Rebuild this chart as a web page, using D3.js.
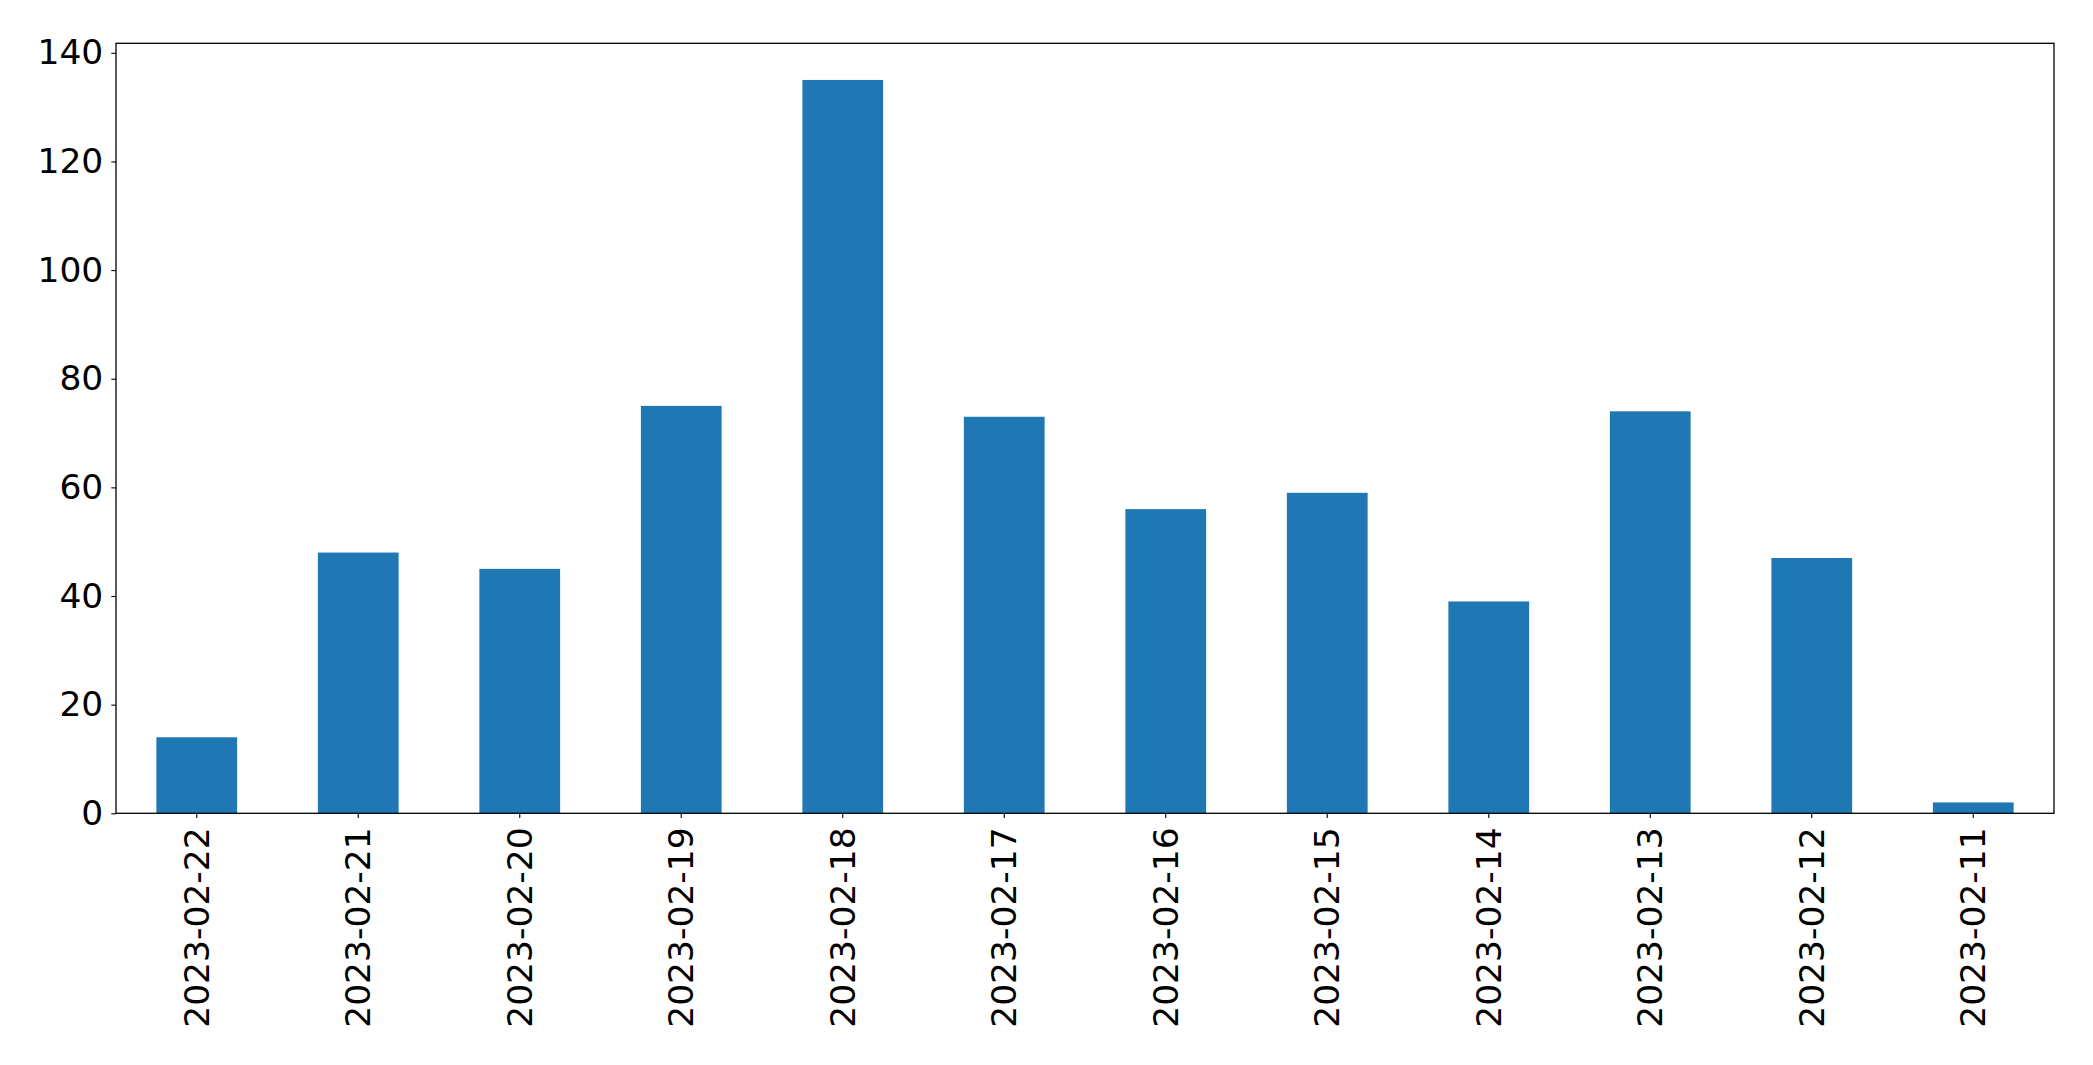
<!DOCTYPE html>
<html>
<head>
<meta charset="utf-8">
<script src="https://cdn.jsdelivr.net/npm/d3@7"></script>
<style>
  html, body { margin: 0; padding: 0; background: #fff; }
  svg { display: block; }
  .tick text { font-family: "DejaVu Sans", sans-serif; font-size: 34.5px; fill: #000; }
</style>
</head>
<body>
<svg id="chart" width="2093" height="1065"></svg>
<script>
const categories = ["2023-02-22","2023-02-21","2023-02-20","2023-02-19","2023-02-18","2023-02-17","2023-02-16","2023-02-15","2023-02-14","2023-02-13","2023-02-12","2023-02-11"];
const values = [14, 48, 45, 75, 135, 73, 56, 59, 39, 74, 47, 2];
const yTicks = [0, 20, 40, 60, 80, 100, 120, 140];

const W = 2093, H = 1065;
const margin = { left: 116, right: W - 2054, top: 43.3, bottom: H - 813.3 };
const iw = W - margin.left - margin.right;
const ih = H - margin.top - margin.bottom;

const svg = d3.select("#chart");
const g = svg.append("g").attr("transform", `translate(${margin.left},${margin.top})`);

const yMax = d3.max(values) * 1.05;
const y = d3.scaleLinear().domain([0, yMax]).range([ih, 0]);
const x = d3.scaleBand().domain(categories).range([0, iw]).paddingInner(0.5).paddingOuter(0.25);

g.selectAll("rect.bar")
  .data(values)
  .enter().append("rect")
  .attr("class", "bar")
  .attr("x", (d, i) => x(categories[i]))
  .attr("width", x.bandwidth())
  .attr("y", d => y(d))
  .attr("height", d => ih - y(d))
  .attr("fill", "#1f77b4");

// Axes
const yAxis = d3.axisLeft(y).tickValues(yTicks).tickSize(4.7).tickPadding(8);
const yg = g.append("g").call(yAxis);
yg.select(".domain").remove();
yg.selectAll(".tick line").attr("stroke", "#000").attr("stroke-width", 1.1);

const xAxis = d3.axisBottom(x).tickSize(4.7).tickPadding(8);
const xg = g.append("g").attr("transform", `translate(0,${ih})`).call(xAxis);
xg.select(".domain").remove();
xg.selectAll(".tick line").attr("stroke", "#000").attr("stroke-width", 1.1);
xg.selectAll(".tick text")
  .attr("transform", "rotate(-90)")
  .attr("x", -14)
  .attr("y", 0)
  .attr("dy", "0.35em")
  .attr("text-anchor", "end");

// frame
g.append("rect")
  .attr("x", 0).attr("y", 0).attr("width", iw).attr("height", ih)
  .attr("fill", "none").attr("stroke", "#000").attr("stroke-width", 1.3);
</script>
</body>
</html>
